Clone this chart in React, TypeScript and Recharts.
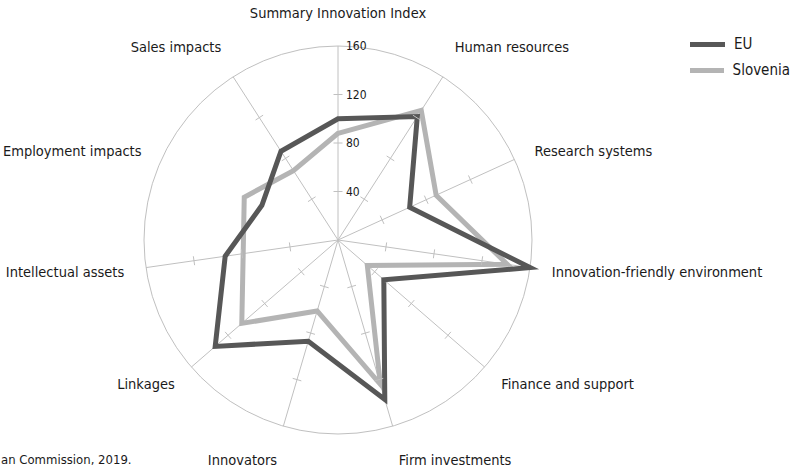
import React from 'react';
import { RadarChart, Radar, PolarGrid, PolarAngleAxis, PolarRadiusAxis, Legend } from 'recharts';

const categories = [
  'Summary Innovation Index',
  'Human resources',
  'Research systems',
  'Innovation-friendly environment',
  'Finance and support',
  'Firm investments',
  'Innovators',
  'Linkages',
  'Intellectual assets',
  'Employment impacts',
  'Sales impacts',
];
const euValues = [100, 121, 65, 160, 50, 137, 87, 134, 94, 69, 87];
const sloveniaValues = [88, 127, 89, 141, 32, 124, 61, 105, 79, 85, 68];
const radiusTicks = [40, 80, 120, 160];
const seriesNames = ['EU', 'Slovenia'];
const hiddenSpokes = ['Employment impacts'];
const sourceNote = 'an Commission, 2019.';

const W = 793;
const H = 469;
const CX = 338;
const CY = 240;
const R = 194;
const FONT = "'DejaVu Sans Condensed', 'Liberation Sans Narrow', sans-serif";
const EU_COLOR = '#575757';
const SI_COLOR = '#b4b4b4';
const GRID_COLOR = '#c0c0c0';

const data = categories.map((name, i) => ({ name, EU: euValues[i], Slovenia: sloveniaValues[i] }));
const n = categories.length;
const spokeAngles = categories
  .map((c, i) => ({ c, a: 90 - (i * 360) / n }))
  .filter((s) => !hiddenSpokes.includes(s.c))
  .map((s) => s.a);

const AngleTick = (props: any) => {
  const { payload } = props;
  const angle = payload.coordinate;
  const rad = (angle * Math.PI) / 180;
  const cos = Math.cos(rad);
  const sin = Math.sin(rad);
  const L = R + 22;
  const extra = Math.sign(sin) * Math.min(12, Math.max(0, Math.abs(sin) - 0.62) * 55);
  const tx = CX + L * cos;
  const ty = CY - (L * sin + extra) + 1;
  const anchor = cos > 0.05 ? 'start' : cos < -0.05 ? 'end' : 'middle';
  return (
    <text x={tx} y={ty} textAnchor={anchor} dominantBaseline="central" fontFamily={FONT} fontSize={14.5} fill="#1a1a1a">
      {payload.value}
    </text>
  );
};

const RadiusTick = (props: any) => {
  const { x, y, payload } = props;
  const r = Math.hypot(x - CX, y - CY);
  const isOuter = payload.value >= radiusTicks[radiusTicks.length - 1];
  return (
    <g>
      {!isOuter &&
        spokeAngles.map((a) => {
          const rad = (a * Math.PI) / 180;
          const px = CX + r * Math.cos(rad);
          const py = CY - r * Math.sin(rad);
          const ux = Math.sin(rad);
          const uy = Math.cos(rad);
          return (
            <line
              key={a}
              x1={px - 4.5 * ux}
              y1={py - 4.5 * uy}
              x2={px + 4.5 * ux}
              y2={py + 4.5 * uy}
              stroke={GRID_COLOR}
              strokeWidth={1}
            />
          );
        })}
      <text x={x + 8} y={y} textAnchor="start" dominantBaseline="central" fontFamily={FONT} fontSize={12} fill="#1a1a1a">
        {payload.value}
      </text>
    </g>
  );
};

const LegendContent = (props: any) => {
  const payload = [...(props.payload || [])].sort(
    (a: any, b: any) => seriesNames.indexOf(a.value) - seriesNames.indexOf(b.value)
  );
  return (
    <div style={{ fontFamily: FONT, fontSize: 15, color: '#1a1a1a' }}>
      {payload.map((p: any) => (
        <div key={p.value} style={{ display: 'flex', alignItems: 'center', height: 26 }}>
          <div style={{ width: 35, height: 5, background: p.color, marginRight: 9 }} />
          <span>{p.value}</span>
        </div>
      ))}
    </div>
  );
};

export default function App() {
  return (
    <div style={{ position: 'absolute', left: 0, top: 0, width: W, height: H, overflow: 'hidden', background: '#fff' }}>
      <RadarChart
        width={W}
        height={H}
        data={data}
        cx={CX}
        cy={CY}
        outerRadius={R}
        margin={{ top: 0, right: 0, bottom: 0, left: 0 }}
      >
        <PolarGrid gridType="circle" polarRadius={[R]} polarAngles={spokeAngles} stroke={GRID_COLOR} />
        <PolarAngleAxis dataKey="name" tick={AngleTick} tickLine={false} axisLine={false} />
        <PolarRadiusAxis
          angle={90}
          domain={[0, 160]}
          ticks={radiusTicks}
          allowDataOverflow
          axisLine={false}
          tick={RadiusTick}
          type="number"
        />
        <Radar
          name="Slovenia"
          dataKey="Slovenia"
          stroke={SI_COLOR}
          strokeWidth={5}
          fill="none"
          fillOpacity={0}
          dot={false}
          isAnimationActive={false}
        />
        <Radar
          name="EU"
          dataKey="EU"
          stroke={EU_COLOR}
          strokeWidth={5}
          fill="none"
          fillOpacity={0}
          dot={false}
          isAnimationActive={false}
        />
        <Legend
          layout="vertical"
          align="right"
          verticalAlign="top"
          content={LegendContent}
          wrapperStyle={{ left: 690, top: 31, width: 100, right: 'auto' }}
        />
      </RadarChart>
      <svg width={W} height={H} style={{ position: 'absolute', left: 0, top: 0, pointerEvents: 'none' }}>
        <text x={1} y={464} fontFamily={FONT} fontSize={13} fill="#1a1a1a">
          {sourceNote}
        </text>
      </svg>
    </div>
  );
}
